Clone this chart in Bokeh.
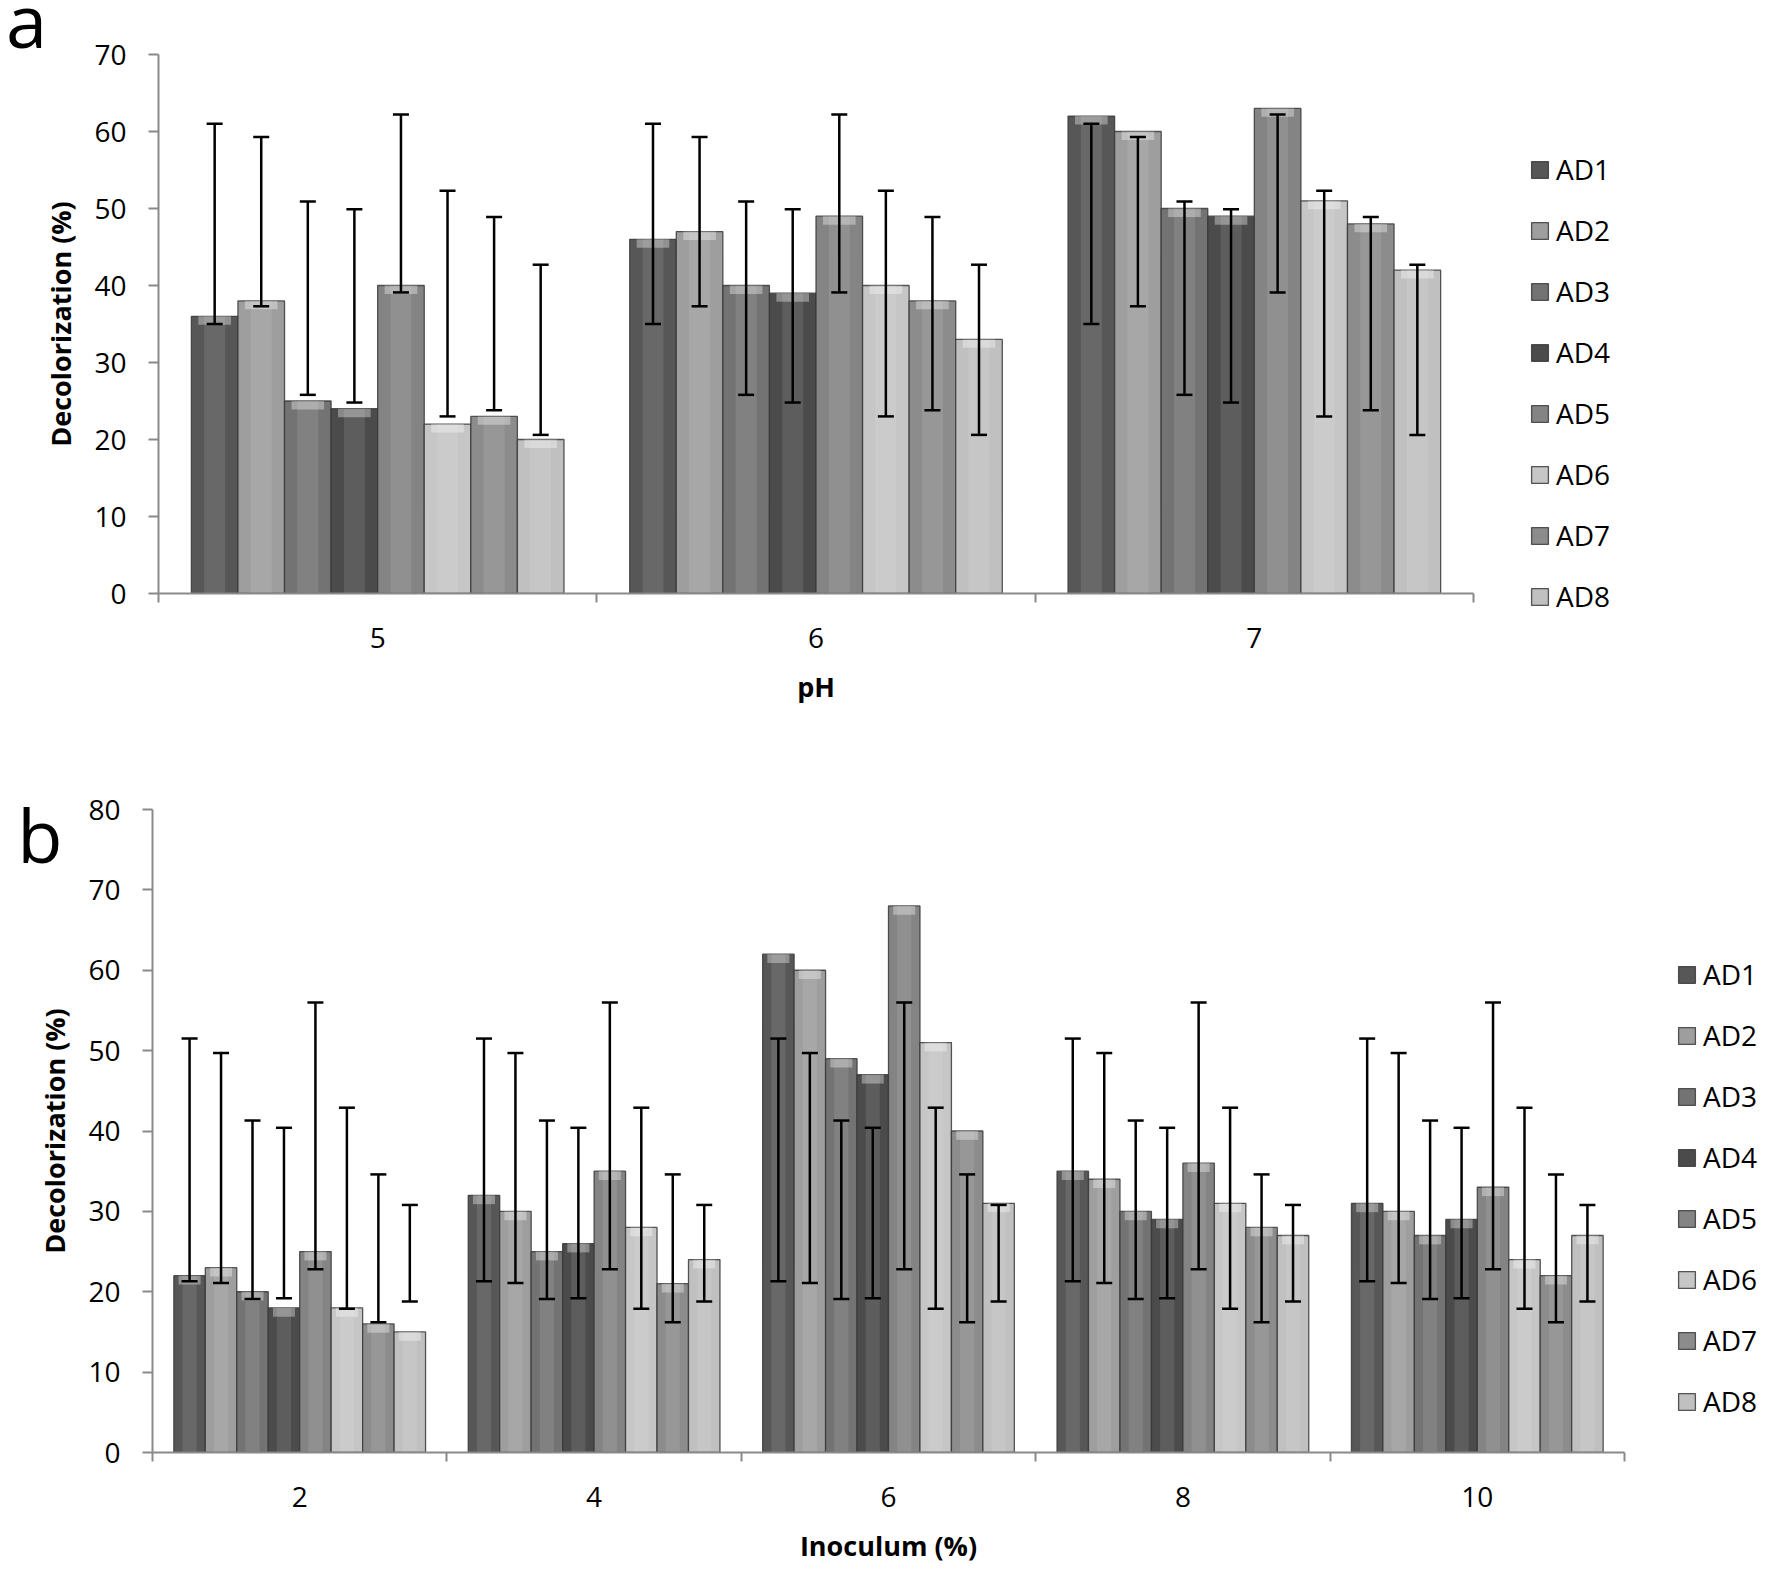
from bokeh.plotting import figure
from bokeh.models import (ColumnDataSource, Range1d, FixedTicker, Whisker, TeeHead,
                          Legend, LegendItem, Label)
from bokeh.layouts import column, row
from bokeh.embed import file_html
from bokeh.resources import INLINE

FONT = "Open Sans"
AXIS_COLOR = "#8a8a8a"

series = ["AD1", "AD2", "AD3", "AD4", "AD5", "AD6", "AD7", "AD8"]
colors = ["#575757", "#9e9e9e", "#737373", "#4b4b4b", "#848484", "#c6c6c6", "#8c8c8c", "#c0c0c0"]

# Panel a: pH
ph_labels = ["5", "6", "7"]
ph_5 = [36, 38, 25, 24, 40, 22, 23, 20]
ph_6 = [46, 47, 40, 39, 49, 40, 38, 33]
ph_7 = [62, 60, 50, 49, 63, 51, 48, 42]
ph_err_low = [35.0, 37.3, 25.8, 24.8, 39.1, 23.0, 23.8, 20.6]
ph_err_high = [61.0, 59.3, 50.9, 49.9, 62.2, 52.3, 48.9, 42.7]

# Panel b: Inoculum
inoc_labels = ["2", "4", "6", "8", "10"]
inoc_2 = [22, 23, 20, 18, 25, 18, 16, 15]
inoc_4 = [32, 30, 25, 26, 35, 28, 21, 24]
inoc_6 = [62, 60, 49, 47, 68, 51, 40, 31]
inoc_8 = [35, 34, 30, 29, 36, 31, 28, 27]
inoc_10 = [31, 30, 27, 29, 33, 24, 22, 27]
inoc_err_low = [21.3, 21.1, 19.1, 19.2, 22.8, 17.9, 16.2, 18.8]
inoc_err_high = [51.5, 49.7, 41.3, 40.4, 56.0, 42.9, 34.6, 30.8]


def make_panel(cat_labels, groups, err_low, err_high, y_max, x_title, letter,
               frame_w, frame_h, b_left, b_top, b_bottom, b_right,
               legend_xy, letter_xy, group_frac, tick_standoff, title_standoff):
    n_cat = len(cat_labels)
    n_ser = len(series)
    bw = group_frac / n_ser
    p = figure(frame_width=frame_w, frame_height=frame_h,
               x_range=Range1d(-0.5, n_cat - 0.5), y_range=Range1d(0, y_max),
               output_backend="svg", toolbar_location=None, tools="",
               min_border_left=b_left, min_border_right=b_right,
               min_border_top=b_top, min_border_bottom=b_bottom,
               background_fill_color="white", border_fill_color="white",
               outline_line_color=None)
    p.xgrid.visible = False
    p.ygrid.visible = False

    items = []
    wb, wl, wu = [], [], []
    for j, name in enumerate(series):
        vals = [g[j] for g in groups]
        xs = [i + (j - (n_ser - 1) / 2) * bw for i in range(n_cat)]
        src = ColumnDataSource(dict(x=xs, top=vals, hl=[v - 1.1 for v in vals]))
        r = p.vbar(x="x", top="top", bottom=0, width=bw, source=src,
                   fill_color=colors[j], line_color="#383838", line_width=1.3,
                   line_alpha=0.85)
        p.vbar(x="x", top="top", bottom=0, width=bw * 0.45, source=src,
               fill_color="white", fill_alpha=0.10, line_color=None)
        p.vbar(x="x", top="top", bottom="hl", width=bw * 0.7, source=src,
               fill_color="white", fill_alpha=0.35, line_color=None)
        items.append(LegendItem(label=name, renderers=[r]))
        wb += xs
        wl += [err_low[j]] * n_cat
        wu += [err_high[j]] * n_cat

    wsrc = ColumnDataSource(dict(base=wb, lower=wl, upper=wu))
    whisk = Whisker(base="base", lower="lower", upper="upper", source=wsrc,
                    dimension="height", line_color="black", line_width=2.5,
                    upper_head=TeeHead(size=16, line_width=2.5, line_color="black"),
                    lower_head=TeeHead(size=16, line_width=2.5, line_color="black"),
                    level="annotation")
    p.add_layout(whisk)

    xa = p.xaxis[0]
    xa.ticker = FixedTicker(ticks=list(range(n_cat)),
                            minor_ticks=[i - 0.5 for i in range(n_cat + 1)])
    xa.major_label_overrides = {i: lab for i, lab in enumerate(cat_labels)}
    xa.major_tick_out = 0
    xa.major_tick_in = 0
    xa.minor_tick_out = 9
    xa.minor_tick_in = 0
    xa.minor_tick_line_color = AXIS_COLOR
    xa.minor_tick_line_width = 2
    xa.axis_line_color = AXIS_COLOR
    xa.axis_line_width = 2
    xa.major_label_text_font = FONT
    xa.major_label_text_font_size = "28px"
    xa.major_label_text_color = "black"
    xa.major_label_standoff = tick_standoff
    xa.axis_label = x_title
    xa.axis_label_text_font = FONT
    xa.axis_label_text_font_style = "bold"
    xa.axis_label_text_font_size = "27px"
    xa.axis_label_text_color = "black"
    xa.axis_label_standoff = title_standoff

    ya = p.yaxis[0]
    ya.ticker = FixedTicker(ticks=list(range(0, y_max + 1, 10)))
    ya.minor_tick_line_color = None
    ya.major_tick_out = 10
    ya.major_tick_in = 0
    ya.major_tick_line_color = AXIS_COLOR
    ya.major_tick_line_width = 2
    ya.axis_line_color = AXIS_COLOR
    ya.axis_line_width = 2
    ya.major_label_text_font = FONT
    ya.major_label_text_font_size = "28px"
    ya.major_label_text_color = "black"
    ya.major_label_standoff = 22
    ya.axis_label = "Decolorization (%)"
    ya.axis_label_text_font = FONT
    ya.axis_label_text_font_style = "bold"
    ya.axis_label_text_font_size = "27px"
    ya.axis_label_text_color = "black"
    ya.axis_label_standoff = 12

    leg = Legend(items=items, location=legend_xy, orientation="vertical",
                 label_text_font=FONT, label_text_font_size="28px",
                 label_text_color="black", glyph_width=21, glyph_height=21,
                 label_height=46, label_standoff=6, spacing=15, padding=0,
                 margin=0, border_line_color=None, background_fill_alpha=0)
    p.add_layout(leg, "right")

    p.add_layout(Label(x=letter_xy[0], y=letter_xy[1], x_units="data",
                       y_units="data", text=letter, text_font=FONT,
                       text_font_size="74px", text_color="black",
                       text_baseline="alphabetic"), "right")
    return p


p1 = make_panel(ph_labels, [ph_5, ph_6, ph_7], ph_err_low, ph_err_high, 70, "pH", "a",
                frame_w=1315, frame_h=539, b_left=158, b_top=54, b_bottom=120, b_right=281,
                legend_xy=(56, -26), letter_xy=(-0.848, 74.6), group_frac=0.85,
                tick_standoff=25, title_standoff=17)
p2 = make_panel(inoc_labels, [inoc_2, inoc_4, inoc_6, inoc_8, inoc_10],
                inoc_err_low, inoc_err_high, 80, "Inoculum (%)", "b",
                frame_w=1472, frame_h=643, b_left=152, b_top=96, b_bottom=114, b_right=130,
                legend_xy=(52, 28), letter_xy=(-0.959, 76.9), group_frac=0.855,
                tick_standoff=25, title_standoff=17)

layout = column(row(p1), row(p2), spacing=0)
open("out.html", "w").write(file_html(layout, INLINE))
